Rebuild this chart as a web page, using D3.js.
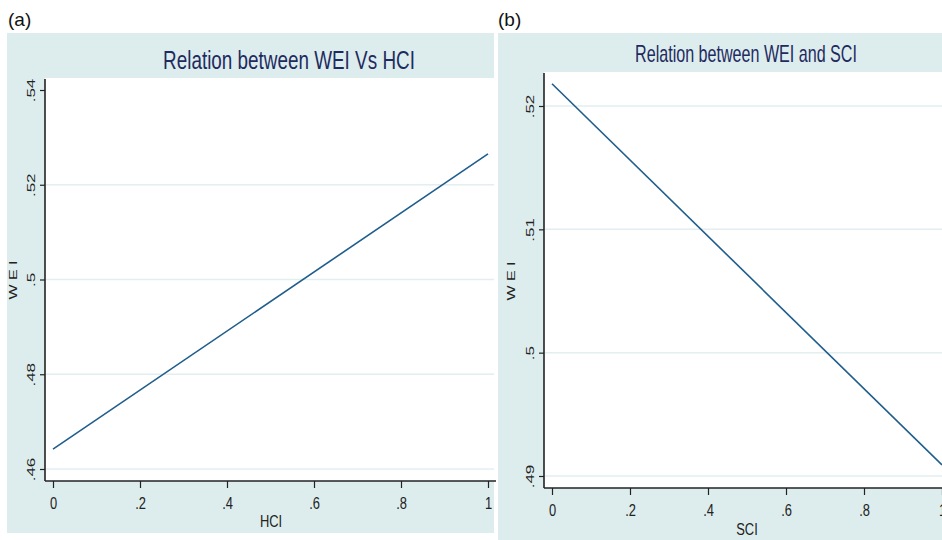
<!DOCTYPE html>
<html>
<head>
<meta charset="utf-8">
<script src="https://cdn.jsdelivr.net/npm/d3@7"></script>
<style>
  body { margin: 0; background: #fff; }
  text { font-family: "Liberation Sans", Arial, sans-serif; }
</style>
</head>
<body>
<div id="chart"></div>
<script>
// data
const xTicks = [0, 0.2, 0.4, 0.6, 0.8, 1];
const hci = [0, 1];
const weiVsHci = [0.4642, 0.5265];
const sci = [0, 1];
const weiVsSci = [0.5218, 0.4909];
const yTicksA = [0.46, 0.48, 0.5, 0.52, 0.54];
const yTicksB = [0.49, 0.5, 0.51, 0.52];
const titles = ['Relation between WEI Vs HCI', 'Relation between WEI and SCI'];
const xTitles = ['HCI', 'SCI'];
const yTitle = 'W E I';
const panelTags = ['(a)', '(b)'];

const W = 942, H = 540;
const BG = '#ddedee', GRID = '#e2eef0', LINE = '#1f5d8c', NAVY = '#1f2b5e';

// stata style labels: .5, .46, 0, 1
const fmt = d => (d === 0 ? '0' : String(+d.toFixed(3)).replace(/^0\./, '.'));

const svg = d3.select('#chart').append('svg').attr('width', W).attr('height', H);

const panels = [
  { tag: panelTags[0], tagX: 8, box: [7, 33, 494, 533], plot: [45, 78, 494, 481],
    xr: [53, 488], yd: [0.46, 0.54], yr: [469, 90], yTicks: yTicksA, gridSkip: [0.54],
    xs: hci, ys: weiVsHci, title: titles[0], tX: 289, tY: 69, tLen: 252, tSize: 25,
    xTitle: xTitles[0], xtX: 271, xtY: 527, ytX: 17, ytY: 280 },
  { tag: panelTags[1], tagX: 498, box: [498, 33, 942, 540], plot: [544, 72, 942, 488],
    xr: [552, 942], yd: [0.49, 0.52], yr: [476, 106], yTicks: yTicksB, gridSkip: [],
    xs: sci, ys: weiVsSci, title: titles[1], tX: 746, tY: 62, tLen: 222, tSize: 23,
    xTitle: xTitles[1], xtX: 747, xtY: 535, ytX: 515, ytY: 281 }
];

const SX = 0.76; // horizontal squash of the source picture
const SY = 0.68; // squash of rotated labels (glyph height)

panels.forEach(p => {
  const g = svg.append('g');
  const [bx0, by0, bx1, by1] = p.box;
  const [px0, py0, px1, py1] = p.plot;

  g.append('text').attr('x', p.tagX).attr('y', 26)
    .attr('font-size', 19).attr('fill', '#111').text(p.tag);

  g.append('rect').attr('x', bx0).attr('y', by0)
    .attr('width', bx1 - bx0).attr('height', by1 - by0).attr('fill', BG);
  g.append('rect').attr('x', px0).attr('y', py0)
    .attr('width', px1 - px0).attr('height', py1 - py0).attr('fill', '#fff');

  const x = d3.scaleLinear().domain([0, 1]).range(p.xr);
  const y = d3.scaleLinear().domain(p.yd).range(p.yr);

  // gridlines
  g.selectAll('.grid').data(p.yTicks.filter(d => !p.gridSkip.includes(d)))
    .enter().append('line')
    .attr('x1', px0 + 1).attr('x2', px1)
    .attr('y1', d => y(d)).attr('y2', d => y(d))
    .attr('stroke', GRID).attr('stroke-width', 1.5);

  // fitted line
  const line = d3.line().x(d => x(d[0])).y(d => y(d[1]));
  g.append('path').datum(p.xs.map((v, i) => [v, p.ys[i]]))
    .attr('d', line).attr('fill', 'none')
    .attr('stroke', LINE).attr('stroke-width', 1.6);

  // x axis
  const xAxis = g.append('g').attr('transform', `translate(0,${py1})`)
    .call(d3.axisBottom(x).tickValues(xTicks).tickFormat(fmt).tickSize(7).tickSizeOuter(0));
  xAxis.select('.domain').remove();
  xAxis.selectAll('.tick line').attr('stroke', '#222').attr('stroke-width', 1.2);
  xAxis.selectAll('.tick text').attr('y', 0).attr('dy', 0)
    .attr('font-size', 17).attr('fill', '#222')
    .attr('transform', `translate(0,28) scale(${SX},1)`);
  g.append('line').attr('x1', px0).attr('x2', px1 + (p.box[2] < W ? 2 : 0))
    .attr('y1', py1).attr('y2', py1).attr('stroke', '#222').attr('stroke-width', 1.6);

  // y axis
  const yAxis = g.append('g').attr('transform', `translate(${px0},0)`)
    .call(d3.axisLeft(y).tickValues(p.yTicks).tickFormat(fmt).tickSize(5).tickSizeOuter(0));
  yAxis.select('.domain').remove();
  yAxis.selectAll('.tick line').attr('stroke', '#222').attr('stroke-width', 1.2);
  yAxis.selectAll('.tick text').attr('x', 0).attr('dy', 0)
    .attr('font-size', 17).attr('fill', '#222').attr('text-anchor', 'middle')
    .attr('transform', `translate(-10,0) scale(${SY},1) rotate(-90)`);
  g.append('line').attr('x1', px0).attr('x2', px0)
    .attr('y1', py0 + 1).attr('y2', py1).attr('stroke', '#222').attr('stroke-width', 1.6);

  // titles
  const t = g.append('text').attr('text-anchor', 'middle')
    .attr('font-size', p.tSize).attr('fill', NAVY).text(p.title);
  const k = p.tLen / t.node().getComputedTextLength();
  t.attr('transform', `translate(${p.tX},${p.tY}) scale(${k},1)`);

  g.append('text').attr('text-anchor', 'middle').attr('font-size', 17).attr('fill', '#222')
    .attr('transform', `translate(${p.xtX},${p.xtY}) scale(${SX},1)`)
    .text(p.xTitle);
  g.append('text').attr('text-anchor', 'middle').attr('font-size', 16).attr('fill', '#222')
    .attr('transform', `translate(${p.ytX},${p.ytY}) scale(${SY},1) rotate(-90)`)
    .text(yTitle);
});
</script>
</body>
</html>
